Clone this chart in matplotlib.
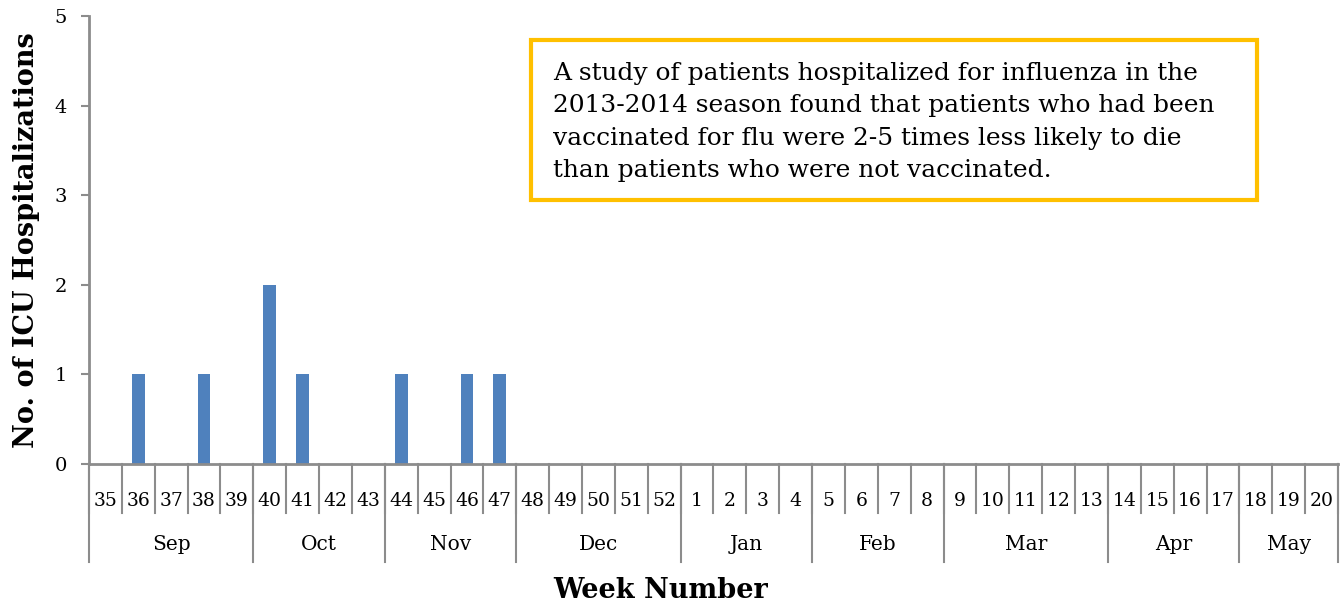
import numpy as np
import matplotlib.pyplot as plt
from matplotlib.patches import Rectangle

weeks = [35, 36, 37, 38, 39, 40, 41, 42, 43, 44, 45, 46, 47, 48, 49, 50, 51, 52,
         1, 2, 3, 4, 5, 6, 7, 8, 9, 10, 11, 12, 13, 14, 15, 16, 17, 18, 19, 20]
icu = [0, 1, 0, 1, 0, 2, 1, 0, 0, 1, 0, 1, 1, 0, 0, 0, 0, 0,
       0, 0, 0, 0, 0, 0, 0, 0, 0, 0, 0, 0, 0, 0, 0, 0, 0, 0, 0, 0]
months = ['Sep', 'Oct', 'Nov', 'Dec', 'Jan', 'Feb', 'Mar', 'Apr', 'May']
weeks_per_month = [5, 4, 4, 5, 4, 4, 5, 4, 3]
note = ("A study of patients hospitalized for influenza in the\n"
        "2013-2014 season found that patients who had been\n"
        "vaccinated for flu were 2-5 times less likely to die\n"
        "than patients who were not vaccinated.")

plt.rcParams['font.family'] = ['DejaVu Serif']
axis_gray = '#8c8c8c'

fig = plt.figure(figsize=(13.4, 6.06), dpi=100)
ax = fig.add_axes([89 / 1340, 142 / 606, 1249 / 1340, 448 / 606])

x = np.arange(len(weeks)) + 0.5
ax.bar(x, icu, width=0.39, color='#4f81bd')

ax.set_xlim(0, len(weeks))
ax.set_ylim(0, 5)
ax.set_yticks(range(6))
ax.tick_params(axis='y', labelsize=14, length=6, color=axis_gray, width=1.5, pad=10)
ax.set_xticks([])
for s in ['top', 'right']:
    ax.spines[s].set_visible(False)
for s in ['left', 'bottom']:
    ax.spines[s].set_color(axis_gray)
    ax.spines[s].set_linewidth(2)

ax_h = 448.0
trans = ax.get_xaxis_transform()

# week labels and separators
for i, w in enumerate(weeks):
    ax.text(i + 0.5, -37 / ax_h, str(w), transform=trans, ha='center', va='center',
            fontsize=13.5)
for b in range(len(weeks) + 1):
    ax.plot([b, b], [0, -49 / ax_h], transform=trans, color=axis_gray, lw=1.5,
            clip_on=False)

# month labels and separators
edges = np.concatenate([[0], np.cumsum(weeks_per_month)])
for m, a, b in zip(months, edges[:-1], edges[1:]):
    ax.text((a + b) / 2, -81 / ax_h, m, transform=trans, ha='center', va='center',
            fontsize=14.5)
for e in edges:
    ax.plot([e, e], [0, -98 / ax_h], transform=trans, color=axis_gray, lw=1.5,
            clip_on=False)

fig.text(661 / 1340, 1 - 591 / 606, 'Week Number', ha='center', va='center',
         fontsize=19.5, fontweight='bold')
fig.text(27 / 1340, 1 - 240 / 606, 'No. of ICU Hospitalizations', ha='center',
         va='center', rotation=90, fontsize=19.5, fontweight='bold')

fig.patches.append(Rectangle((531 / 1340, 1 - 200 / 606), 726 / 1340, 160 / 606,
                             transform=fig.transFigure, fill=True, facecolor='white',
                             edgecolor='#ffc000', linewidth=3))
fig.text(553 / 1340, 1 - 62 / 606, note, ha='left', va='top', fontsize=17.9,
         linespacing=1.52)

fig.savefig('out.png', dpi=100)
